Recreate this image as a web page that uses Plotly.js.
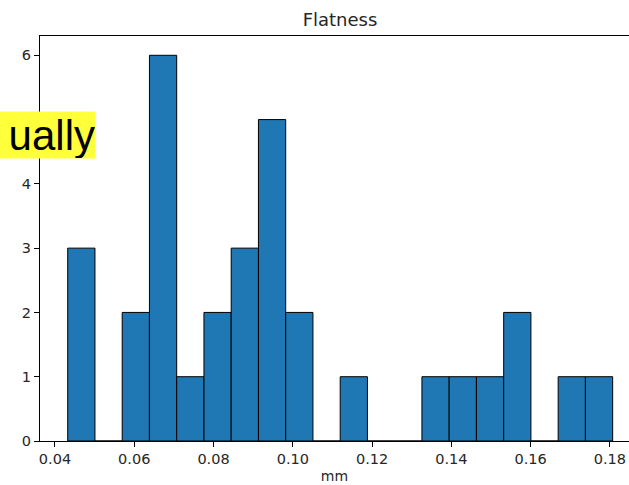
<!DOCTYPE html>
<html>
<head>
<meta charset="utf-8">
<script src="https://cdn.plot.ly/plotly-3.0.1.min.js"></script>
<style>
html, body { margin: 0; padding: 0; background: #ffffff; overflow: hidden; }
#chart { width: 629px; height: 485px; }
</style>
</head>
<body>
<div id="chart"></div>
<script>
const binStart = 0.04321;
const binEnd = 0.18069;
const counts = [3, 0, 2, 6, 1, 2, 3, 5, 2, 0, 1, 0, 0, 1, 1, 1, 2, 0, 1, 1];
const xTickVals = [0.04, 0.06, 0.08, 0.10, 0.12, 0.14, 0.16, 0.18];
const xTickText = ["0.04", "0.06", "0.08", "0.10", "0.12", "0.14", "0.16", "0.18"];
const yTickVals = [0, 1, 2, 3, 4, 5, 6];
// the "5" label is hidden under the yellow overlay in the reference
const yTickText = ["0", "1", "2", "3", "4", "", "6"];
const titleText = "Flatness";
const xLabel = "mm";
const overlayText = "ually";

const binWidth = (binEnd - binStart) / counts.length;
const centers = counts.map((_, i) => binStart + (i + 0.5) * binWidth);

const textColor = "#262626";

const trace = {
  type: "bar",
  x: centers,
  y: counts,
  width: counts.map(() => binWidth),
  marker: { color: "#1f77b4", line: { color: "#000000", width: 1 } },
  hoverinfo: "x+y"
};

const layout = {
  width: 629,
  height: 485,
  margin: { l: 40, r: 0, t: 36, b: 44 },
  paper_bgcolor: "#ffffff",
  plot_bgcolor: "#ffffff",
  showlegend: false,
  bargap: 0,
  font: { family: "DejaVu Sans, sans-serif", color: textColor, size: 14 },
  title: {
    text: titleText,
    font: { family: "DejaVu Sans, sans-serif", size: 18, color: textColor },
    xref: "container", x: 340 / 629, xanchor: "center",
    yref: "container", y: 1 - 20 / 485, yanchor: "middle"
  },
  xaxis: {
    range: [0.03622, 0.18481],
    tickvals: xTickVals,
    ticktext: xTickText,
    ticks: "outside",
    ticklen: 5,
    tickwidth: 1,
    tickcolor: "#000",
    showline: true,
    linecolor: "#000",
    linewidth: 1,
    mirror: true,
    showgrid: false,
    zeroline: false,
    tickfont: { family: "DejaVu Sans, sans-serif", size: 14.5, color: textColor },
    title: { text: xLabel, font: { family: "DejaVu Sans, sans-serif", size: 14, color: textColor }, standoff: 4 }
  },
  yaxis: {
    range: [0, 6.3],
    tickvals: yTickVals,
    ticktext: yTickText,
    ticks: "outside",
    ticklen: 5,
    tickwidth: 1,
    tickcolor: "#000",
    showline: true,
    linecolor: "#000",
    linewidth: 1,
    showgrid: false,
    zeroline: false,
    tickfont: { family: "DejaVu Sans, sans-serif", size: 14.5, color: textColor }
  },
  annotations: [{
    text: overlayText,
    xref: "paper", yref: "paper",
    x: (96 - 40) / 589, y: (441 - 135) / 405,
    xanchor: "right", yanchor: "middle",
    showarrow: false,
    align: "right",
    width: 120,
    height: 46,
    bgcolor: "#ffff3c",
    borderpad: 0,
    font: { family: "Liberation Sans, Arial, sans-serif", size: 42, color: "#000000" }
  }]
};

Plotly.newPlot("chart", [trace], layout, { displayModeBar: false, staticPlot: true });
</script>
</body>
</html>
